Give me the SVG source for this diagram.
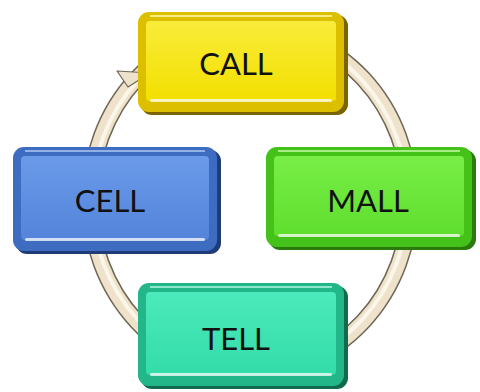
<svg xmlns="http://www.w3.org/2000/svg" width="480" height="392" viewBox="0 0 480 392">
<defs>
<style>
.lbl{font-family:"Lato","Liberation Sans",sans-serif;font-size:31px;fill:#111;text-anchor:middle}
.hl{fill:#ffffff;opacity:0.75}
</style>
<linearGradient id="gY" x1="0" y1="0" x2="0" y2="1"><stop offset="0" stop-color="#f9ec3a"/><stop offset="1" stop-color="#f3df00"/></linearGradient>
<linearGradient id="gB" x1="0" y1="0" x2="0" y2="1"><stop offset="0" stop-color="#6a9ae8"/><stop offset="1" stop-color="#5484db"/></linearGradient>
<linearGradient id="gG" x1="0" y1="0" x2="0" y2="1"><stop offset="0" stop-color="#78ee46"/><stop offset="1" stop-color="#5fde2e"/></linearGradient>
<linearGradient id="gT" x1="0" y1="0" x2="0" y2="1"><stop offset="0" stop-color="#4ceabc"/><stop offset="1" stop-color="#33dca8"/></linearGradient>
</defs>
<rect width="480" height="392" fill="#fff"/>
<g id="connectors">
<ellipse cx="250" cy="200" rx="160" ry="172" fill="none" stroke="#6e6656" stroke-width="17"/>
<ellipse cx="250" cy="200" rx="160" ry="172" fill="none" stroke="#eee2cb" stroke-width="14"/>
<ellipse cx="250" cy="200" rx="158" ry="170" fill="none" stroke="#fbf5ea" stroke-width="4"/>
<polygon points="117,71 150,73 128,87" fill="#eee2cb" stroke="#6e6656" stroke-width="1.2" stroke-linejoin="round"/>
</g>
<g id="call">
<rect x="141" y="15" width="207" height="100" rx="11" fill="#7a6400"/>
<rect x="138" y="12" width="206" height="100" rx="11" fill="#dcc000"/>
<rect x="146" y="21" width="190" height="80" rx="4" fill="url(#gY)"/>
<rect class="hl" x="150" y="99" width="182" height="3" rx="1.5"/>
<rect x="150" y="15" width="182" height="2" fill="#fff7a0" opacity="0.8"/>
<text class="lbl" x="236" y="75">CALL</text>
</g>
<g id="cell">
<rect x="16" y="150" width="205" height="104" rx="11" fill="#1f3c78"/>
<rect x="13" y="147" width="204" height="104" rx="11" fill="#3e6cc0"/>
<rect x="21" y="156" width="188" height="84" rx="4" fill="url(#gB)"/>
<rect class="hl" x="25" y="238" width="180" height="3" rx="1.5"/>
<rect x="25" y="150" width="180" height="2" fill="#a8c4f0" opacity="0.8"/>
<text class="lbl" x="110" y="212">CELL</text>
</g>
<g id="mall">
<rect x="269" y="150" width="207" height="100" rx="11" fill="#2a7a0e"/>
<rect x="266" y="147" width="206" height="100" rx="11" fill="#44c21a"/>
<rect x="274" y="156" width="190" height="80" rx="4" fill="url(#gG)"/>
<rect class="hl" x="278" y="234" width="182" height="3" rx="1.5"/>
<rect x="278" y="150" width="182" height="2" fill="#c0f8a0" opacity="0.8"/>
<text class="lbl" x="368" y="212">MALL</text>
</g>
<g id="tell">
<rect x="141" y="286" width="207" height="103" rx="11" fill="#126a4e"/>
<rect x="138" y="283" width="206" height="103" rx="11" fill="#22b688"/>
<rect x="146" y="292" width="190" height="83" rx="4" fill="url(#gT)"/>
<rect class="hl" x="150" y="373" width="182" height="3" rx="1.5"/>
<rect x="150" y="286" width="182" height="2" fill="#a8f4dc" opacity="0.8"/>
<text class="lbl" x="236" y="350">TELL</text>
</g>
</svg>
